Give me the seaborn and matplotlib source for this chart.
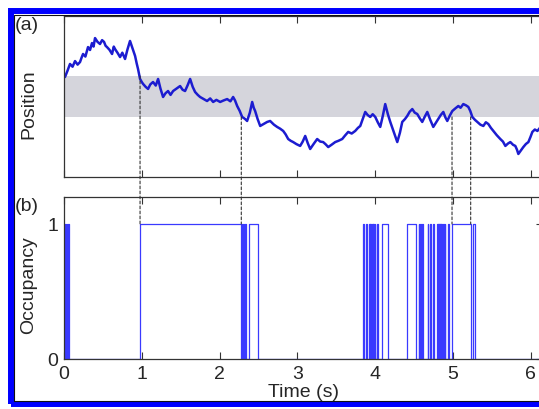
import numpy as np
import pandas as pd
import matplotlib
matplotlib.use("Agg")
import matplotlib.pyplot as plt
from matplotlib.patches import Rectangle, ConnectionPatch
import seaborn as sns

# ---------------- data ----------------
pos_time = [0.013, 0.045, 0.077, 0.11, 0.142, 0.175, 0.206, 0.225, 0.245, 0.275,
            0.309, 0.335, 0.36, 0.38, 0.399, 0.43, 0.463, 0.49, 0.515, 0.535,
            0.553, 0.585, 0.618, 0.64, 0.656, 0.69, 0.721, 0.75, 0.785, 0.815,
            0.849, 0.88, 0.914, 0.935, 0.952, 0.978, 1.0, 1.017, 1.05, 1.081,
            1.11, 1.145, 1.18, 1.21, 1.24, 1.274, 1.305, 1.338, 1.37, 1.403,
            1.45, 1.493, 1.525, 1.557, 1.59, 1.622, 1.655, 1.686, 1.72, 1.75,
            1.8, 1.84, 1.88, 1.918, 1.96, 2.008, 2.05, 2.098, 2.14, 2.175,
            2.2, 2.227, 2.26, 2.291, 2.325, 2.355, 2.39, 2.42, 2.44, 2.458,
            2.49, 2.523, 2.57, 2.613, 2.651, 2.7, 2.741, 2.78, 2.819, 2.85,
            2.883, 2.915, 2.947, 2.99, 3.037, 3.07, 3.102, 3.135, 3.166, 3.21,
            3.256, 3.295, 3.333, 3.365, 3.398, 3.44, 3.488, 3.53, 3.578, 3.615,
            3.655, 3.7, 3.745, 3.78, 3.81, 3.845, 3.874, 3.905, 3.938, 3.97,
            4.003, 4.035, 4.067, 4.1, 4.131, 4.165, 4.196, 4.24, 4.286, 4.32,
            4.35, 4.385, 4.414, 4.445, 4.479, 4.51, 4.543, 4.575, 4.607, 4.64,
            4.672, 4.71, 4.749, 4.78, 4.813, 4.845, 4.878, 4.905, 4.929, 4.96,
            4.994, 5.03, 5.071, 5.1, 5.135, 5.17, 5.2, 5.225, 5.251, 5.285,
            5.315, 5.355, 5.393, 5.425, 5.457, 5.49, 5.521, 5.565, 5.611, 5.645,
            5.676, 5.71, 5.74, 5.775, 5.804, 5.825, 5.843, 5.875, 5.907, 5.94,
            5.972, 6.0, 6.023, 6.055, 6.088, 6.12, 6.15]
pos_value = [62.1, 66.0, 70.2, 68.5, 72.0, 69.8, 71.4, 74.0, 76.4, 74.8,
             80.7, 78.9, 83.2, 81.0, 86.3, 84.0, 82.6, 85.0, 83.9, 81.5,
             80.7, 79.0, 76.4, 81.0, 79.5, 77.0, 74.5, 77.2, 73.3, 79.0,
             84.5, 80.0, 75.2, 70.5, 67.1, 60.9, 59.0, 57.8, 56.0, 54.7,
             57.5, 59.0, 56.8, 60.9, 55.0, 49.7, 52.0, 53.4, 51.0, 53.4,
             55.0, 56.5, 54.2, 53.4, 57.0, 60.9, 56.0, 52.8, 51.0, 49.7,
             48.3, 47.2, 48.8, 46.6, 47.9, 46.6, 47.5, 48.4, 47.0, 49.7,
             47.5, 44.1, 41.0, 37.3, 36.2, 34.8, 40.0, 46.6, 43.0, 41.0,
             36.0, 31.7, 33.0, 34.2, 34.8, 32.5, 31.1, 30.0, 28.6, 26.5,
             23.6, 22.5, 21.7, 20.4, 19.3, 22.0, 25.5, 21.0, 17.4, 20.5,
             23.6, 22.0, 21.7, 20.3, 18.6, 20.0, 21.7, 22.5, 23.6, 25.8,
             28.0, 27.0, 28.6, 30.5, 31.7, 36.5, 40.4, 38.5, 37.3, 39.0,
             37.3, 34.0, 31.1, 38.0, 45.3, 39.0, 34.2, 28.0, 21.7, 27.5,
             34.2, 36.0, 37.9, 40.5, 42.2, 40.0, 39.1, 36.5, 34.2, 37.5,
             40.4, 35.5, 31.1, 33.5, 36.0, 38.5, 40.4, 37.0, 34.8, 38.0,
             41.0, 42.5, 44.1, 43.0, 45.3, 44.5, 43.5, 41.0, 37.3, 35.5,
             34.2, 32.5, 31.7, 34.0, 32.9, 30.5, 28.6, 26.0, 23.6, 22.0,
             19.3, 20.8, 21.7, 20.0, 19.3, 17.0, 14.3, 16.5, 18.6, 20.5,
             21.7, 25.0, 28.0, 29.5, 28.6, 30.5, 29.8]

band_low, band_high = 37.3, 62.7

# occupancy: (switch on, switch off) times
occ_on = [0.005, 0.02, 0.035, 0.05, 0.98, 2.285, 2.295, 2.31, 2.33, 2.38,
          3.85, 3.89, 3.92, 3.94, 3.955, 3.98, 4.00, 4.03, 4.09,
          4.41, 4.56, 4.58, 4.60, 4.68, 4.71, 4.75, 4.80, 4.815, 4.825,
          4.835, 4.85, 4.88, 4.90, 4.94, 4.99, 5.26]
occ_off = [0.015, 0.03, 0.045, 0.06, 2.28, 2.29, 2.30, 2.315, 2.335, 2.50,
           3.86, 3.90, 3.93, 3.95, 3.97, 3.985, 4.005, 4.035, 4.17,
           4.53, 4.565, 4.59, 4.62, 4.685, 4.715, 4.755, 4.81, 4.82, 4.83,
           4.845, 4.86, 4.885, 4.905, 4.945, 5.23, 5.29]

# dashed connectors: time and position where the trace leaves/enters the band
link_time = [0.978, 2.28, 4.99, 5.23]
link_pos = [band_high, band_low, band_low, band_low]

x_ticks = [0, 1, 2, 3, 4, 5, 6]
t_end = 6.16

# ---------------- build tables ----------------
pos_df = pd.DataFrame({"t": pos_time, "v": pos_value})
ot, ov = [0.0], [0.0]
for a, b in zip(occ_on, occ_off):
    ot += [a, a, b, b]
    ov += [0, 1, 1, 0]
ot.append(t_end + 0.2)
ov.append(0)
occ_df = pd.DataFrame({"t": ot, "o": ov})

# ---------------- figure ----------------
sns.set_style("white")
plt.rcParams["font.family"] = ["Liberation Sans", "DejaVu Sans"]
plt.rcParams["font.size"] = 14

fig = plt.figure(figsize=(5.39, 4.10), dpi=100)
W, H = 539.0, 410.0
ax1 = fig.add_axes([64 / W, 1 - 178 / H, (543 - 64) / W, (178 - 17) / H])
ax2 = fig.add_axes([64 / W, 1 - 360 / H, (543 - 64) / W, (360 - 198) / H])

# (a) position
ax1.axhspan(band_low, band_high, color="#d5d5dc", lw=0, zorder=0)
sns.lineplot(data=pos_df, x="t", y="v", ax=ax1, color="#1c1cd0", lw=1.8,
             sort=False, estimator=None)
ax1.set_xlim(0, t_end)
ax1.set_ylim(0, 100)
ax1.set_yticks([])
ax1.set_xticks(x_ticks)
ax1.tick_params(axis="x", direction="in", top=True, bottom=True,
                labelbottom=False, length=5, width=0.8, color="#333333")
ax1.set_xlabel("")
ax1.set_ylabel("Position", fontsize=14)

# (b) occupancy
sns.lineplot(data=occ_df, x="t", y="o", ax=ax2, color="#3a3aff", lw=0.9,
             sort=False, estimator=None)
ax2.set_xlim(0, t_end)
ax2.set_ylim(0, 1.2)
ax2.set_yticks([0, 1])
ax2.set_xticks(x_ticks)
ax2.tick_params(axis="both", direction="in", top=True, bottom=True,
                right=True, length=5, width=0.8, color="#333333",
                labelsize=14, pad=4)
ax2.set_xlabel("Time (s)", fontsize=14, labelpad=1)
ax2.set_ylabel("Occupancy", fontsize=14)

for ax in (ax1, ax2):
    for s in ax.spines.values():
        s.set_color("#333333")
        s.set_linewidth(0.9)

ax1.yaxis.set_label_coords(-0.056, 0.46)
ax2.yaxis.set_label_coords(-0.056, 0.46)

# dashed connectors
for t, p in zip(link_time, link_pos):
    con = ConnectionPatch(xyA=(t, p), coordsA=ax1.transData,
                          xyB=(t, 1), coordsB=ax2.transData,
                          linestyle=(0, (2.5, 2)), color="#333333", lw=0.8)
    fig.add_artist(con)

# panel letters
fig.text(15 / W, 1 - 25 / H, "(a)", fontsize=14, va="center", ha="left")
fig.text(15 / W, 1 - 207 / H, "(b)", fontsize=14, va="center", ha="left")

# blue frame (cropped on the right)
fig.patches.append(Rectangle((10.5 / W, 5.0 / H), 1.2, 1 - 17.0 / H,
                             transform=fig.transFigure, fill=False,
                             edgecolor="#0000ff", lw=4.3, zorder=10))
fig.patches.append(Rectangle((13.5 / W, 8.0 / H), 1.2, 1 - 24.0 / H,
                             transform=fig.transFigure, fill=False,
                             edgecolor="#111111", lw=0.8, zorder=10))

fig.savefig("out.png", dpi=100)
